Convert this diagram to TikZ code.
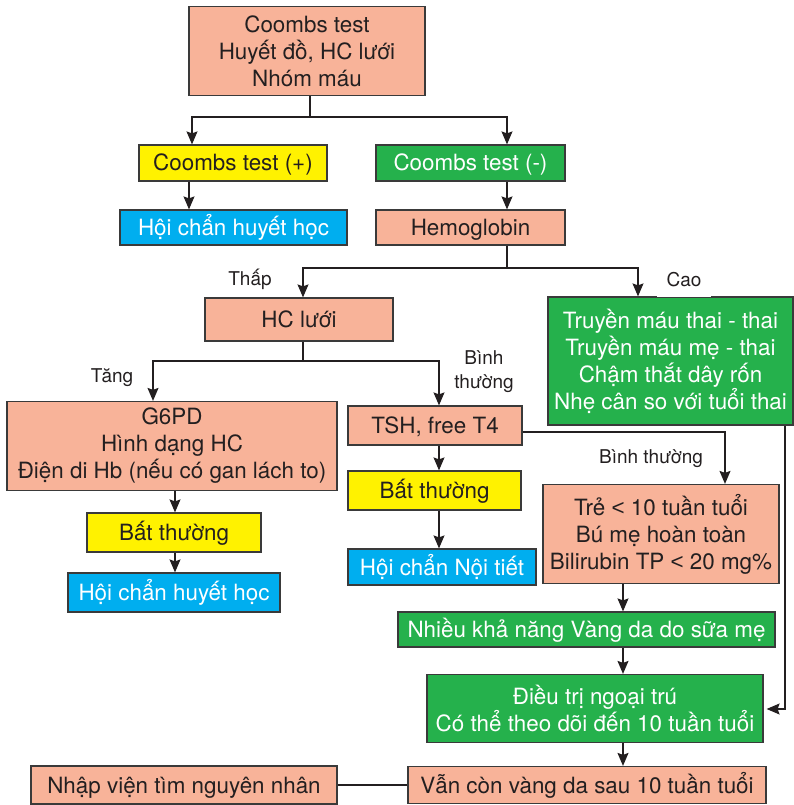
\documentclass[tikz,border=0pt]{standalone}
\usepackage{fontspec}
\setmainfont{TeX Gyre Heros}
\newfontfamily\libfont{Liberation Sans}
\usetikzlibrary{arrows.meta}
\definecolor{salmon}{HTML}{F8B399}
\definecolor{yel}{HTML}{FFF200}
\definecolor{grn}{HTML}{25B14C}
\definecolor{blu}{HTML}{00AEEF}
\definecolor{edge}{HTML}{3A3A3A}
\definecolor{ink}{HTML}{231F20}
\begin{document}
\begin{tikzpicture}[x=1pt,y=-1pt,
 box/.style={draw=edge, line width=1.2pt, inner sep=0pt, align=center, font=\fontsize{22.4}{27}\selectfont},
 pbox/.style={box, fill=salmon, text=ink},
 ybox/.style={box, fill=yel, text=ink},
 gbox/.style={box, fill=grn, text=white},
 bbox/.style={box, fill=blu, text=white},
 one/.style={text height=16pt, text depth=0pt},
 lab/.style={text=ink, font=\fontsize{19}{24}\selectfont, inner sep=0pt, align=center},
 conn/.style={draw=ink, line width=1.2pt},
 arr/.style={conn, -{Stealth[length=13pt,width=11pt,inset=2pt]}},
 sz/.style args={#1x#2}{minimum width=#1pt, minimum height=#2pt}
]
\useasboundingbox (0,0) rectangle (794,805);

\node[pbox, sz=236x89] (top) at (307,51) {Coombs test\\Huyết đồ, HC lưới\\Nhóm máu};
\node[ybox, one, sz=188x36] (cp) at (233,163) {Coombs test (+)};
\node[gbox, one, sz=189x36] (cm) at (470.5,163) {Coombs test (-)};
\node[bbox, one, sz=227x35] (hc1) at (233.5,227.5) {Hội chẩn huyết học};
\node[pbox, one, sz=189x35] (hemo) at (470.5,227.5) {Hemoglobin};
\node[pbox, one, sz=188x43] (hcl) at (299,319.5) {HC lưới};
\node[gbox, sz=245x128] (tr) at (670.5,361) {Truyền máu thai - thai\\Truyền máu mẹ - thai\\Chậm thắt dây rốn\\Nhẹ cân so với tuổi thai};
\node[pbox, sz=330x89] (g6) at (172,446) {G6PD\\Hình dạng HC\\Điện di Hb (nếu có gan lách to)};
\node[pbox, one, sz=174x39] (tsh) at (435,425.5) {TSH, free T4};
\node[ybox, one, sz=174x39] (bt1) at (174,532.5) {Bất thường};
\node[bbox, one, sz=212x39] (hc2) at (174,592.5) {Hội chẩn huyết học};
\node[ybox, one, sz=173x39] (bt2) at (434.5,490.5) {Bất thường};
\node[bbox, one, sz=188x36] (nt) at (442,567) {Hội chẩn Nội tiết};
\node[pbox, sz=236x99] (tre) at (661,534) {Trẻ {\libfont<} 10 tuần tuổi\\Bú mẹ hoàn toàn\\Bilirubin TP {\libfont<} 20 mg\%};
\node[gbox, one, sz=377x35] (nhieu) at (586.5,629.5) {Nhiều khả năng Vàng da do sữa mẹ};
\node[gbox, sz=336x68] (dt) at (595,708.5) {Điều trị ngoại trú\\Có thể theo dõi đến 10 tuần tuổi};
\node[pbox, one, sz=358x37] (van) at (587,785) {Vẫn còn vàng da sau 10 tuần tuổi};
\node[pbox, one, sz=306x38] (nhap) at (184,785) {Nhập viện tìm nguyên nhân};

% connectors
\coordinate (a0) at (310,117);
\coordinate (a1) at (192,117);
\coordinate (a2) at (507,117);
\coordinate (a3) at (189,0);
\draw[conn] (top.south -| a0) -- (a0);
\draw[arr] (a0) -- (a1) -- (a1 |- cp.north);
\draw[arr] (a0) -- (a2) -- (a2 |- cm.north);
\draw[arr] (cp.south -| a3) -- (hc1.north -| a3);
\draw[arr] (cm.south -| a2) -- (hemo.north -| a2);

\coordinate (b0) at (507,268);
\coordinate (b1) at (303,268);
\coordinate (b2) at (638,268);
\draw[conn] (hemo.south -| b0) -- (b0);
\draw[arr] (b0) -- (b1) -- (b1 |- hcl.north);
\draw[arr] (b0) -- (b2) -- (b2 |- tr.north);

\coordinate (c0) at (303,361);
\coordinate (c1) at (153,361);
\coordinate (c2) at (439,361);
\draw[conn] (hcl.south -| c0) -- (c0);
\draw[arr] (c0) -- (c1) -- (c1 |- g6.north);
\draw[arr] (c0) -- (c2) -- (c2 |- tsh.north);

\coordinate (d0) at (175,0);
\draw[arr] (g6.south -| d0) -- (bt1.north -| d0);
\draw[arr] (bt1.south -| d0) -- (hc2.north -| d0);
\draw[arr] (tsh.south -| c2) -- (bt2.north -| c2);
\draw[arr] (bt2.south -| c2) -- (nt.north -| c2);

\coordinate (e0) at (725,432);
\draw[arr] (tsh.east |- e0) -- (e0) -- (e0 |- tre.north);

\coordinate (f0) at (785,709);
\draw[arr, shorten >=3pt] (tr.south -| f0) -- (f0) -- (dt.east |- f0);

\coordinate (g0) at (623,0);
\draw[arr] (tre.south -| g0) -- (nhieu.north -| g0);
\draw[arr] (nhieu.south -| g0) -- (dt.north -| g0);
\draw[arr] (dt.south -| g0) -- (van.north -| g0);
\draw[conn] (van.west) -- (nhap.east);

% labels
\node[lab] (lthap) at (250,279) {Thấp};
\node[lab, fill=white, inner xsep=10pt, minimum height=34pt] (lcao) at (684,280) {Cao};
\node[lab] (ltang) at (112,378) {Tăng};
\node[lab] (lbt1) at (484,372) {Bình\\thường};
\node[lab] (lbt2) at (651,459) {Bình thường};
\end{tikzpicture}
\end{document}
